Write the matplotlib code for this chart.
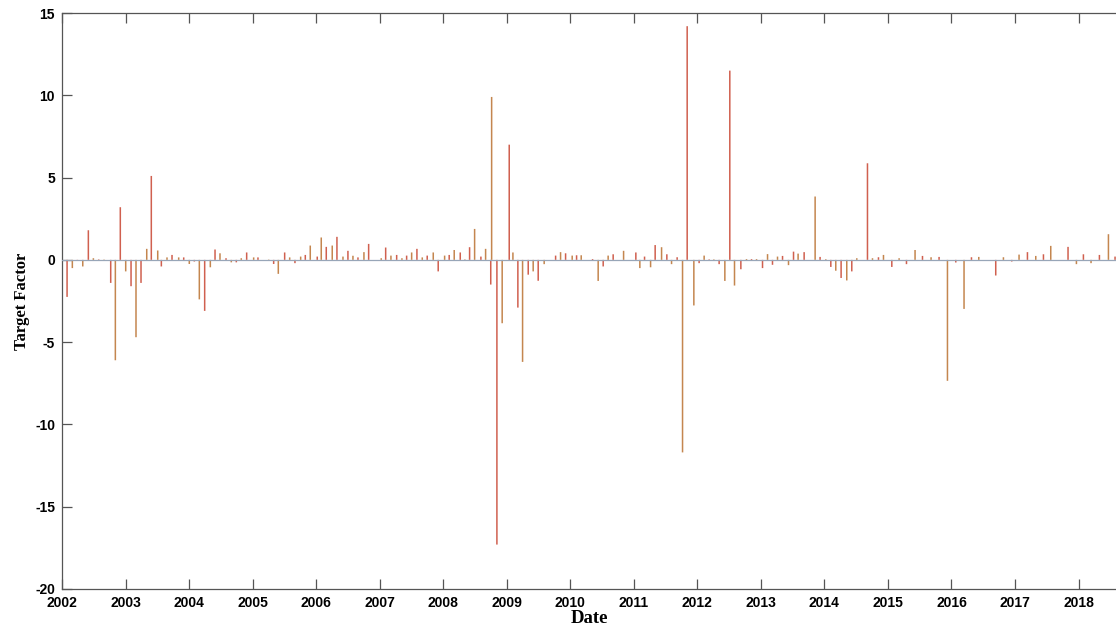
import numpy as np
import matplotlib
matplotlib.use("Agg")
import matplotlib.pyplot as plt

plt.rcParams['axes.unicode_minus'] = False

# event dates (decimal years) and target factor values
dates = [2002.079, 2002.162, 2002.241, 2002.326, 2002.414, 2002.493, 2002.577, 2002.661,
         2002.766, 2002.839, 2002.917, 2003.002, 2003.086, 2003.164, 2003.243, 2003.333,
         2003.405, 2003.506, 2003.563, 2003.652, 2003.731, 2003.836, 2003.915, 2004.003,
         2004.082, 2004.161, 2004.245, 2004.334, 2004.408, 2004.486, 2004.581, 2004.664,
         2004.743, 2004.821, 2004.906, 2005.016, 2005.084, 2005.253, 2005.331, 2005.404,
         2005.504, 2005.583, 2005.666, 2005.756, 2005.829, 2005.907, 2006.017, 2006.080,
         2006.159, 2006.253, 2006.327, 2006.422, 2006.500, 2006.579, 2006.658, 2006.752,
         2006.826, 2007.024, 2007.094, 2007.177, 2007.267, 2007.350, 2007.424, 2007.503,
         2007.586, 2007.670, 2007.748, 2007.843, 2007.921, 2008.022, 2008.094, 2008.173,
         2008.268, 2008.341, 2008.415, 2008.494, 2008.593, 2008.667, 2008.748, 2008.762,
         2008.845, 2008.928, 2009.039, 2009.097, 2009.175, 2009.249, 2009.338, 2009.416,
         2009.495, 2009.589, 2009.769, 2009.847, 2009.926, 2010.030, 2010.099, 2010.172,
         2010.351, 2010.439, 2010.518, 2010.596, 2010.675, 2010.839, 2011.032, 2011.095,
         2011.169, 2011.264, 2011.336, 2011.437, 2011.520, 2011.594, 2011.682, 2011.767,
         2011.840, 2011.945, 2012.028, 2012.107, 2012.186, 2012.260, 2012.343, 2012.433,
         2012.511, 2012.585, 2012.685, 2012.774, 2012.853, 2012.932, 2013.026, 2013.105,
         2013.183, 2013.262, 2013.341, 2013.435, 2013.514, 2013.586, 2013.681, 2013.854,
         2013.932, 2014.022, 2014.101, 2014.179, 2014.263, 2014.352, 2014.431, 2014.510,
         2014.678, 2014.757, 2014.851, 2014.930, 2015.061, 2015.176, 2015.292, 2015.427,
         2015.544, 2015.679, 2015.805, 2015.937, 2016.068, 2016.198, 2016.315, 2016.430,
         2016.697, 2016.818, 2016.949, 2017.064, 2017.196, 2017.327, 2017.448, 2017.563,
         2017.835, 2017.967, 2018.077, 2018.197, 2018.329, 2018.471, 2018.575]

target = [-2.25, -0.5, -0.05, -0.4, 1.8, 0.1, 0.03, 0.02,
          -1.4, -6.1, 3.2, -0.7, -1.6, -4.7, -1.4, 0.67,
          5.1, 0.57, -0.4, 0.15, 0.3, 0.15, 0.15, -0.25,
          -0.1, -2.4, -3.1, -0.45, 0.63, 0.4, 0.1, -0.15,
          -0.15, 0.1, 0.45, 0.15, 0.15, 0.02, -0.25, -0.85,
          0.45, 0.15, -0.2, 0.2, 0.3, 0.87, 0.2, 1.36,
          0.79, 0.87, 1.4, 0.2, 0.55, 0.25, 0.15, 0.47,
          0.97, 0.1, 0.75, 0.26, 0.3, 0.1, 0.26, 0.45,
          0.67, 0.15, 0.26, 0.45, -0.7, 0.26, 0.3, 0.6,
          0.45, 0.03, 0.77, 1.88, 0.2, 0.67, -1.5, 9.9,
          -17.3, -3.85, 7.0, 0.45, -2.9, -6.2, -0.9, -0.7,
          -1.27, -0.26, 0.26, 0.47, 0.4, 0.26, 0.28, 0.28,
          0.05, -1.28, -0.4, 0.26, 0.34, 0.55, 0.45, -0.5,
          0.2, -0.45, 0.9, 0.77, 0.34, -0.26, 0.16, -11.7,
          14.2, -2.77, -0.2, 0.26, 0.03, 0.03, -0.26, -1.28,
          11.5, -1.56, -0.57, 0.05, 0.05, 0.05, -0.5, 0.35,
          -0.3, 0.2, 0.24, -0.32, 0.5, 0.38, 0.47, 3.85,
          0.18, 0.04, -0.43, -0.66, -1.1, -1.25, -0.7, 0.1,
          5.87, 0.1, 0.16, 0.3, -0.43, 0.1, -0.26, 0.6,
          0.24, 0.16, 0.18, -7.35, -0.16, -2.98, 0.16, 0.18,
          -0.95, 0.16, -0.1, 0.32, 0.47, 0.24, 0.34, 0.85,
          0.79, -0.26, 0.34, -0.2, 0.3, 1.56, 0.2]

year_ticks = list(range(2002, 2019))
y_ticks = [-20, -15, -10, -5, 0, 5, 10, 15]

fig = plt.figure(figsize=(11.16, 6.29), dpi=100)
ax = fig.add_axes([0.0556, 0.0636, 0.9444, 0.9157])

cols = ['#d0604f' if i % 2 == 0 else '#c4864f' for i in range(len(target))]
bars = ax.bar(dates, target, width=0.024, color=cols, linewidth=0, zorder=2)
for b in bars:
    b.set_snap(False)
ax.axhline(0, color='#98a6b8', lw=0.9, zorder=3)

ax.set_xlim(2002, 2018.59)
ax.set_ylim(-20, 15)
ax.set_xticks(year_ticks)
ax.set_xticklabels([str(y) for y in year_ticks])
ax.set_yticks(y_ticks)

ax.tick_params(direction='in', length=7, width=0.9, color='#555555',
               top=True, right=False, labelsize=10)
ax.tick_params(axis='x', pad=5)
ax.tick_params(axis='y', pad=5)
for lab in ax.get_xticklabels() + ax.get_yticklabels():
    lab.set_fontweight('bold')
    lab.set_family('Liberation Sans')

for s in ['left', 'bottom', 'top']:
    ax.spines[s].set_color('#555555')
    ax.spines[s].set_linewidth(0.9)
ax.spines['right'].set_visible(False)

ax.set_xlabel('Date', family='Liberation Serif', fontweight='bold', fontsize=13.5, labelpad=0)
ax.set_ylabel('Target Factor', family='Liberation Serif', fontweight='bold', fontsize=12, labelpad=4)

fig.savefig('out.png', dpi=100)
